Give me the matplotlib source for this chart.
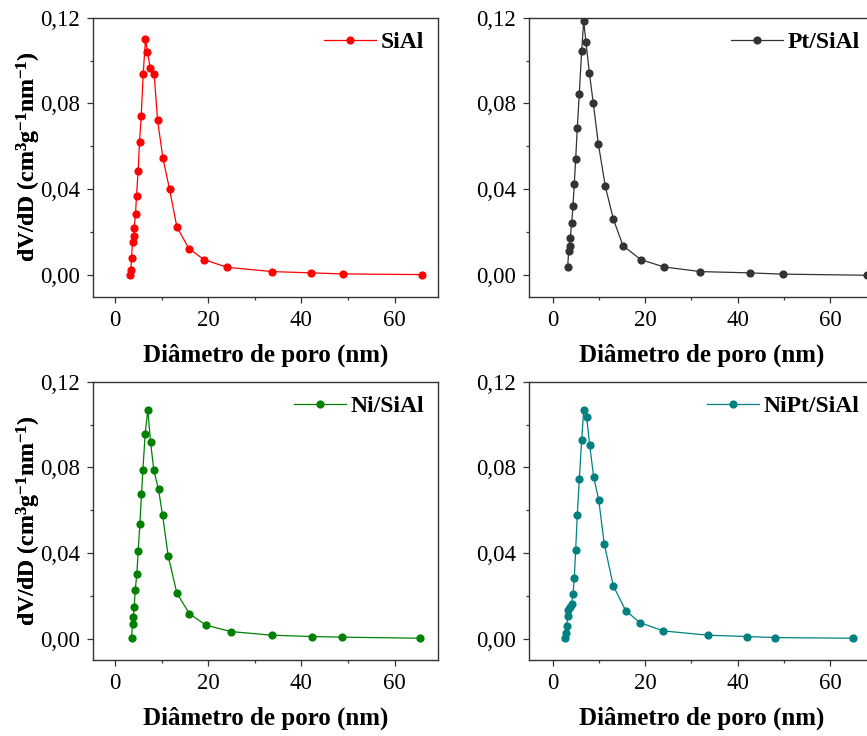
import matplotlib
matplotlib.use("Agg")
import matplotlib.pyplot as plt
from matplotlib.ticker import MultipleLocator, FuncFormatter
from matplotlib.font_manager import FontProperties

plt.rcParams["font.family"] = ["Liberation Serif", "DejaVu Serif"]
plt.rcParams["mathtext.fontset"] = "custom"
plt.rcParams["mathtext.rm"] = "Liberation Serif:bold"
plt.rcParams["mathtext.bf"] = "Liberation Serif:bold"
plt.rcParams["mathtext.default"] = "bf"

# Pore size distributions: pore diameter (nm) and dV/dD (cm3 g-1 nm-1)
sial_d = [3.15, 3.37, 3.51, 3.72, 3.94, 4.08, 4.37, 4.58, 4.94, 5.23, 5.59, 6.02,
          6.51, 6.94, 7.52, 8.38, 9.09, 10.24, 11.67, 13.25, 15.83, 19.05, 24.0,
          33.66, 42.1, 49.0, 65.9]
sial_v = [0.0000, 0.0023, 0.0079, 0.0155, 0.0184, 0.0219, 0.0287, 0.0371, 0.0487,
          0.0622, 0.0741, 0.0939, 0.1101, 0.1038, 0.0967, 0.0936, 0.0724, 0.0547,
          0.0401, 0.0225, 0.0124, 0.0073, 0.0037, 0.0017, 0.0011, 0.0006, 0.0003]

pt_d = [3.25, 3.46, 3.68, 3.81, 4.11, 4.39, 4.68, 4.98, 5.33, 5.76, 6.28, 6.71,
        7.21, 7.93, 8.79, 9.88, 11.39, 13.12, 15.2, 19.05, 24.0, 31.9, 42.6,
        49.8, 68.0]
pt_v = [0.0037, 0.0113, 0.0138, 0.0173, 0.0243, 0.0321, 0.0425, 0.0541, 0.0687,
        0.0845, 0.1045, 0.1183, 0.1085, 0.0944, 0.0801, 0.0612, 0.0414, 0.0262,
        0.0138, 0.0073, 0.0039, 0.0017, 0.0011, 0.0005, 0.0000]

ni_d = [3.51, 3.72, 3.87, 4.08, 4.30, 4.65, 4.94, 5.30, 5.65, 5.95, 6.44, 7.02,
        7.59, 8.31, 9.31, 10.17, 11.39, 13.25, 15.96, 19.48, 24.9, 33.66, 42.2,
        48.7, 65.4]
ni_v = [0.0006, 0.0068, 0.0103, 0.0150, 0.0227, 0.0303, 0.0410, 0.0536, 0.0674,
        0.0787, 0.0958, 0.1068, 0.0919, 0.0786, 0.0697, 0.0578, 0.0387, 0.0213,
        0.0117, 0.0064, 0.0034, 0.0017, 0.0011, 0.0008, 0.0003]

nipt_d = [2.66, 2.81, 3.03, 3.25, 3.38, 3.68, 4.11, 4.39, 4.68, 4.98, 5.33, 5.76,
          6.28, 6.71, 7.36, 8.01, 8.87, 9.96, 11.17, 13.12, 15.8, 18.83, 23.95,
          33.7, 42.0, 48.1, 64.9]
nipt_v = [0.0003, 0.0027, 0.0062, 0.0106, 0.0134, 0.0151, 0.0163, 0.0208, 0.0284,
          0.0416, 0.0579, 0.0744, 0.0927, 0.1070, 0.1033, 0.0903, 0.0756, 0.0649,
          0.0443, 0.0247, 0.0132, 0.0076, 0.0037, 0.0017, 0.0011, 0.0006, 0.0003]

panels = [
    ("SiAl", sial_d, sial_v, "#ff0000"),
    ("Pt/SiAl", pt_d, pt_v, "#333333"),
    ("Ni/SiAl", ni_d, ni_v, "#008000"),
    ("NiPt/SiAl", nipt_d, nipt_v, "#008080"),
]

W, H = 867, 736
# axes boxes in pixels: left, right, top, bottom
boxes = [
    (93.3, 438.3, 17.6, 296.7),
    (529.3, 874.0, 17.6, 296.7),
    (93.3, 438.3, 381.7, 660.3),
    (529.3, 874.0, 381.7, 660.3),
]
xlims = [(-4.7, 69.4), (-5.05, 69.5), (-4.7, 69.4), (-5.05, 69.5)]

fig = plt.figure(figsize=(W / 100, H / 100), dpi=100)
fig.patch.set_facecolor("white")

comma = FuncFormatter(lambda v, p: f"{v:.2f}".replace(".", ","))
tick_font = 16.5
xlabel_prop = FontProperties(family="Liberation Serif", weight="bold", size=18)
ylabel_prop = FontProperties(family="Liberation Serif", weight="bold", size=17)
legend_prop = FontProperties(family="Liberation Serif", weight="bold", size=17)

for (name, d, v, col), (l, r, t, b), xl in zip(panels, boxes, xlims):
    ax = fig.add_axes([l / W, 1 - b / H, (r - l) / W, (b - t) / H])
    ax.plot(d, v, "-o", color=col, lw=0.9, ms=4.9, mec=col, mfc=col, label=name)
    ax.set_xlim(*xl)
    ax.set_ylim(-0.01, 0.12)
    ax.xaxis.set_major_locator(MultipleLocator(20))
    ax.xaxis.set_minor_locator(MultipleLocator(10))
    ax.yaxis.set_major_locator(MultipleLocator(0.04))
    ax.yaxis.set_minor_locator(MultipleLocator(0.02))
    ax.yaxis.set_major_formatter(comma)
    ax.tick_params(which="major", direction="out", length=4.5, width=0.9,
                   color="#333333", labelsize=tick_font, pad=5)
    ax.tick_params(which="minor", direction="out", length=2.5, width=0.9,
                   color="#333333")
    for s in ax.spines.values():
        s.set_color("#333333")
        s.set_linewidth(1.0)
    ax.set_xlabel("Diâmetro de poro (nm)", fontproperties=xlabel_prop)
    ax.set_ylabel(r"dV/dD (cm$^{3}$g$^{-1}$nm$^{-1}$)", fontproperties=ylabel_prop)
    ax.xaxis.set_label_coords(0.5, -46.5 / (b - t))
    ax.xaxis.label.set_va("top")
    ax.yaxis.set_label_coords(-(l - 43) / (r - l), 0.5)
    ax.legend(loc="upper right", frameon=False, prop=legend_prop,
              handlelength=2.2, handletextpad=0.2, borderaxespad=0.2,
              borderpad=0.4)

fig.savefig("out.png", dpi=100, facecolor="white")
